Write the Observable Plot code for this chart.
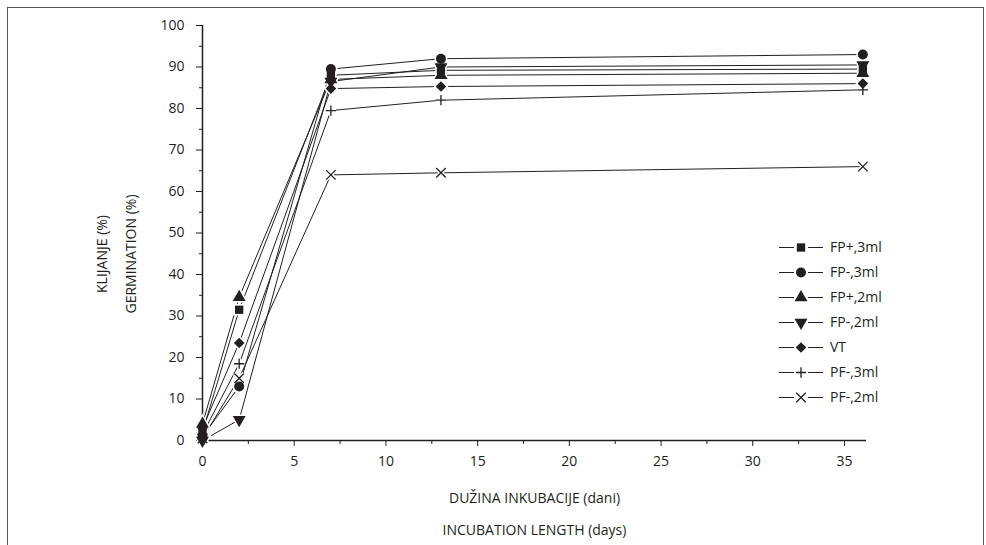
<!DOCTYPE html>
<html><head><meta charset="utf-8">
<script src="https://cdn.jsdelivr.net/npm/d3@7"></script>
<script src="https://cdn.jsdelivr.net/npm/@observablehq/plot@0.6"></script>
<style>
body{margin:0;background:#fff;}
#wrap{position:relative;width:986px;height:545px;overflow:hidden;font-family:"Open Sans",sans-serif;}
#frame{position:absolute;left:7px;top:7px;width:977px;height:600px;border:1px solid #555;box-sizing:border-box;}
#wrap svg{position:absolute;left:0;top:0;}
</style></head><body><div id="wrap"><div id="frame"></div></div>
<script>
// ---- data ----
const days = [0, 2, 7, 13, 36];
const seriesNames = ["FP+,3ml", "FP-,3ml", "FP+,2ml", "FP-,2ml", "VT", "PF-,3ml", "PF-,2ml"];
const fpPlus3ml  = [2,   31.5, 88,   89.2, 89.5];
const fpMinus3ml = [1,   13,   89.5, 92,   93];
const fpPlus2ml  = [4,   34.5, 87,   88,   88.5];
const fpMinus2ml = [0,   5,    86.5, 90,   90.5];
const vt         = [3,   23.5, 84.8, 85.3, 86];
const pfMinus3ml = [1.5, 18.5, 79.5, 82,   84.5];
const pfMinus2ml = [0.5, 15,   64,   64.5, 66];
const xTicks = [0, 5, 10, 15, 20, 25, 30, 35];
const xMinorTicks = [2.5, 7.5, 12.5, 17.5, 22.5, 27.5, 32.5];
const yTicks = [0, 10, 20, 30, 40, 50, 60, 70, 80, 90, 100];
const yMinorTicks = [5, 15, 25, 35, 45, 55, 65, 75, 85, 95];
const yTitles = ["KLIJANJE (%)", "GERMINATION (%)"];
const xTitles = ["DUŽINA INKUBACIJE (dani)", "INCUBATION LENGTH (days)"];

const allValues = [fpPlus3ml, fpMinus3ml, fpPlus2ml, fpMinus2ml, vt, pfMinus3ml, pfMinus2ml];
const rows = seriesNames.flatMap((s, i) => days.map((d, j) => ({series: s, day: d, value: allValues[i][j]})));

// ---- styling ----
const ink = "#231f20";
const triangleDown = {
  draw(context, size) {
    const y = -Math.sqrt(size / (Math.sqrt(3) * 3));
    context.moveTo(0, -y * 2);
    context.lineTo(-Math.sqrt(3) * y, y);
    context.lineTo(Math.sqrt(3) * y, y);
    context.closePath();
  }
};
const symbols = ["square", "circle", "triangle", triangleDown, "diamond2", "plus", "times"];
const radii = [4.7, 5, 4.8, 4.8, 4.8, 3.4, 4.4];
const stroked = [false, false, false, false, false, true, true];

const halos = seriesNames.map((s, i) => Plot.dot(rows.filter(d => d.series === s), {
  x: "day", y: "value", symbol: symbols[i], r: radii[i],
  fill: stroked[i] ? "none" : "white", stroke: "white", strokeWidth: stroked[i] ? 4 : 3
}));
const dots = seriesNames.map((s, i) => Plot.dot(rows.filter(d => d.series === s), {
  x: "day", y: "value", symbol: symbols[i], r: radii[i],
  fill: stroked[i] ? "none" : ink, stroke: stroked[i] ? ink : "none", strokeWidth: 1.3
}));

const plot = Plot.plot({
  width: 986, height: 545,
  marginLeft: 202, marginRight: 120, marginTop: 25, marginBottom: 105,
  style: {fontFamily: "'Open Sans', sans-serif", fontSize: "14px", color: ink, background: "transparent"},
  x: {domain: [0, 36.2]},
  y: {domain: [0, 100]},
  marks: [
    Plot.axisX({ticks: xTicks, tickSize: 6, tickPadding: 10, label: null, fontSize: 14, tickFormat: d => String(d)}),
    Plot.axisX({ticks: xMinorTicks, tickSize: 4, label: null, tickFormat: () => ""}),
    Plot.axisY({ticks: yTicks, tickSize: 6, tickPadding: 12, label: null, fontSize: 14, tickFormat: d => String(d)}),
    Plot.axisY({ticks: yMinorTicks, tickSize: 3, label: null, tickFormat: () => ""}),
    Plot.ruleY([0], {stroke: ink, strokeWidth: 1.5}),
    Plot.ruleX([0], {y1: 0, y2: 100, stroke: ink, strokeWidth: 1.5}),
    Plot.line(rows, {x: "day", y: "value", z: "series", stroke: ink, strokeWidth: 1}),
    ...halos,
    ...dots,
    Plot.text([yTitles[0]], {frameAnchor: "left", text: d => d, rotate: -90, textAnchor: "middle", dx: -100, dy: 21, fontSize: 14, fill: ink}),
    Plot.text([yTitles[1]], {frameAnchor: "left", text: d => d, rotate: -90, textAnchor: "middle", dx: -71, dy: 21, fontSize: 14, fill: ink}),
    Plot.text([xTitles[0]], {frameAnchor: "bottom", text: d => d, dy: 62, fontSize: 14, fill: ink}),
    Plot.text([xTitles[1]], {frameAnchor: "bottom", text: d => d, dy: 94, fontSize: 14, fill: ink})
  ]
});
document.getElementById("wrap").appendChild(plot);

// ---- legend ----
const svg = d3.select(plot);
const lg = svg.append("g").attr("class", "legend").attr("text-anchor", "start");
const toD3 = s => typeof s === "string" ? ({square: d3.symbolSquare, circle: d3.symbolCircle, triangle: d3.symbolTriangle, diamond2: d3.symbolDiamond2, plus: d3.symbolPlus, times: d3.symbolTimes})[s] : s;
seriesNames.forEach((s, i) => {
  const y = 247.5 + i * 25;
  const g = lg.append("g").attr("transform", `translate(0,${y})`);
  g.append("line").attr("x1", 779).attr("x2", 794).attr("y1", 0).attr("y2", 0).attr("stroke", ink).attr("stroke-width", 1);
  g.append("line").attr("x1", 808).attr("x2", 823).attr("y1", 0).attr("y2", 0).attr("stroke", ink).attr("stroke-width", 1);
  g.append("path").attr("transform", "translate(801,0)")
    .attr("d", d3.symbol(toD3(symbols[i]), Math.PI * radii[i] * radii[i])())
    .attr("fill", stroked[i] ? "none" : ink).attr("stroke", stroked[i] ? ink : "none").attr("stroke-width", 1.3);
  g.append("text").attr("x", 830).attr("y", 0).attr("dy", "0.35em").attr("fill", ink)
    .attr("text-anchor", "start").style("font-size", "14px").text(s);
});
</script>
</body></html>
